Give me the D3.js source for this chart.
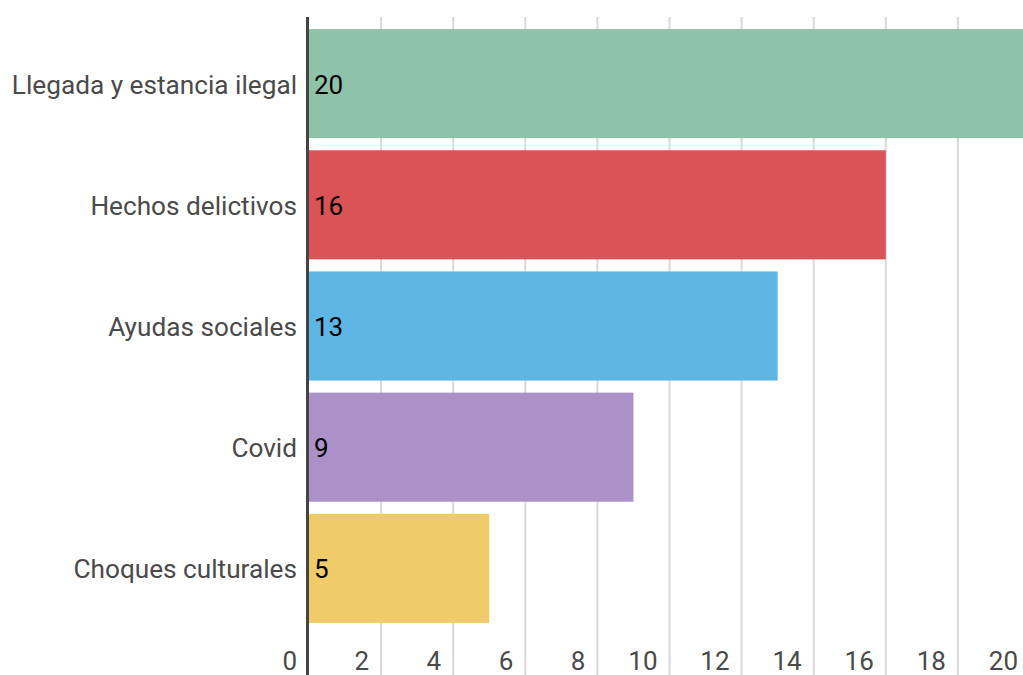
<!DOCTYPE html>
<html><head><meta charset="utf-8">
<script src="https://cdn.jsdelivr.net/npm/d3@7"></script>
<style>
html,body{margin:0;padding:0;background:#fff;overflow:hidden}
text{font-family:Roboto,"Noto Sans",sans-serif}
</style></head>
<body><svg id="c" width="1023" height="675"></svg>
<script>
const categories = ["Llegada y estancia ilegal","Hechos delictivos","Ayudas sociales","Covid","Choques culturales"];
const values = [20,16,13,9,5];
const colors = ["#8fc3a9","#dc5357","#5db6e4","#ab91c8","#efcb6a"];
const ticks = [0,2,4,6,8,10,12,14,16,18,20];

const svg = d3.select("#c");
const x = d3.scaleLinear().domain([0,20]).range([309,1030]);
const y = d3.scaleBand().domain(categories).range([23,629]).paddingInner(0.1).paddingOuter(0.05);

// grid
svg.append("g").selectAll("line").data(ticks.slice(1)).join("line")
  .attr("x1",d=>x(d)).attr("x2",d=>x(d)).attr("y1",17).attr("y2",675)
  .attr("stroke","#d9d9d9").attr("stroke-width",2);

// bars
svg.append("g").selectAll("rect").data(values).join("rect")
  .attr("x",x(0)).attr("y",(d,i)=>y(categories[i]))
  .attr("width",d=>x(d)-x(0)).attr("height",y.bandwidth())
  .attr("fill",(d,i)=>colors[i]);

// axis line
svg.append("line").attr("x1",307.5).attr("x2",307.5).attr("y1",17).attr("y2",675)
  .attr("stroke","#444").attr("stroke-width",3);

// tick labels
svg.append("g").selectAll("text").data(ticks).join("text")
  .attr("x",d=>x(d)-12).attr("y",670).attr("text-anchor","end")
  .attr("font-size",26).attr("fill","#4a4a4a").text(d=>d);

// category labels
svg.append("g").selectAll("text").data(categories).join("text")
  .attr("x",297).attr("y",d=>y(d)+y.bandwidth()/2+10).attr("text-anchor","end")
  .attr("font-size",26.2).attr("fill","#4a4a4a").text(d=>d);

// value labels
svg.append("g").selectAll("text").data(values).join("text")
  .attr("x",x(0)+5).attr("y",(d,i)=>y(categories[i])+y.bandwidth()/2+10)
  .attr("font-size",26).attr("fill","#000").text(d=>d);
</script></body></html>
